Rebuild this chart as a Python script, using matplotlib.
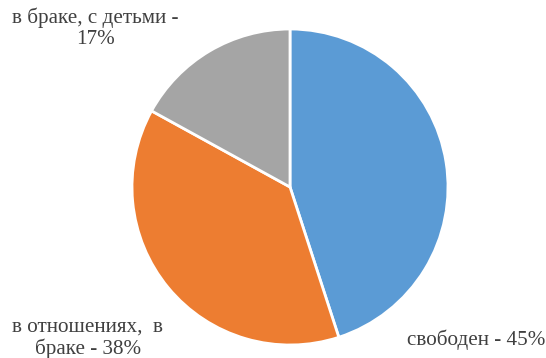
import matplotlib
matplotlib.use("Agg")
import matplotlib.pyplot as plt

categories = ["свободен", "в отношениях,  в\nбраке", "в браке, с детьми"]
values = [45, 38, 17]
colors = ["#5B9BD5", "#ED7D31", "#A5A5A5"]

plt.rcParams["font.family"] = ["Liberation Serif", "DejaVu Serif"]

W, H = 546, 358
fig = plt.figure(figsize=(W / 100, H / 100), dpi=100)

cx, cy, r = 290, 187, 158
ax = fig.add_axes([(cx - r) / W, (H - cy - r) / H, 2 * r / W, 2 * r / H])
ax.pie(values, colors=colors, startangle=90, counterclock=False, radius=1,
       wedgeprops=dict(edgecolor="white", linewidth=2))
ax.set_xlim(-1, 1)
ax.set_ylim(-1, 1)
ax.set_aspect("equal")
ax.axis("off")

labels = [f"{c} - {v}%" for c, v in zip(categories, values)]
labels[2] = "в браке, с детьми -\n17%"

# label anchor positions (pixels, centre of text block)
pos = [(476, 340), (88, 338), (95, 28)]
for lab, (px, py) in zip(labels, pos):
    fig.text(px / W, 1 - py / H, lab, ha="center", va="center",
             fontsize=15.2, color="#404040", linespacing=1.15)

fig.savefig("out.png", dpi=100, facecolor="white")
